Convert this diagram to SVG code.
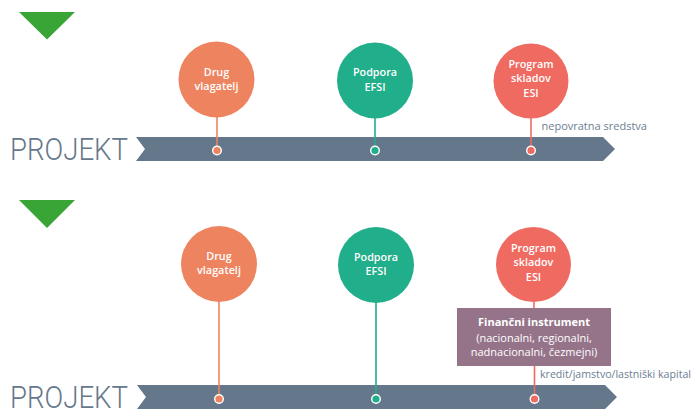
<svg xmlns="http://www.w3.org/2000/svg" width="692" height="409" viewBox="0 0 692 409">
<style>
.tri{fill:#3aa537}
.bar{fill:#64778b}
.proj{font-family:Roboto,"Open Sans",sans-serif;font-weight:300;font-size:31px;fill:#66788c}
.ct{font-family:"Open Sans","Noto Sans",sans-serif;font-weight:600;font-size:10.8px;fill:#ffffff;text-anchor:middle}
.lbl{font-family:"Open Sans","Noto Sans",sans-serif;font-size:11px;fill:#6c7e93}
.bt{font-family:"Open Sans","Noto Sans",sans-serif;font-size:11px;fill:#ffffff;text-anchor:middle}
.o{fill:#ee845f}.g{fill:#21ae8a}.r{fill:#ef6b62}
.so{stroke:#ee845f}.sg{stroke:#21ae8a}.sr{stroke:#ef6b62}
.stem{stroke-width:1.6;fill:none}
.dot{stroke:#ffffff;stroke-width:1.4}
</style>
<rect width="692" height="409" fill="#ffffff"/>
<!-- section 1 -->
<polygon class="tri" points="19,12 75,12 47,39.5"/>
<g id="bar1">
<polygon class="bar" points="136,137 603,137 615,149 603,161 136,161 145,149"/>
<text class="proj" x="10" y="160" textLength="118" lengthAdjust="spacingAndGlyphs">PROJEKT</text>
</g>
<g id="connectors1">
<line class="stem so" x1="217" y1="117" x2="217" y2="150"/>
<line class="stem sg" x1="375" y1="118" x2="375" y2="150"/>
<line class="stem sr" x1="531" y1="118" x2="531" y2="150"/>
<circle class="dot o" cx="217" cy="150.5" r="4.3"/>
<circle class="dot g" cx="375" cy="150.5" r="4.3"/>
<circle class="dot r" cx="531" cy="150.5" r="4.3"/>
</g>
<g id="n1-drug">
<circle class="o" cx="216.5" cy="79.5" r="38"/>
<text class="ct" x="216.5" y="75.5">Drug</text>
<text class="ct" x="216.5" y="89.5">vlagatelj</text>
</g>
<g id="n1-efsi">
<circle class="g" cx="375" cy="80.5" r="38"/>
<text class="ct" x="375" y="76">Podpora</text>
<text class="ct" x="375" y="90.5">EFSI</text>
</g>
<g id="n1-esi">
<circle class="r" cx="531" cy="81" r="37.5"/>
<text class="ct" x="531" y="68">Program</text>
<text class="ct" x="531" y="82.3">skladov</text>
<text class="ct" x="531" y="96.6">ESI</text>
</g>
<text class="lbl" x="541.5" y="130">nepovratna sredstva</text>
<!-- section 2 -->
<polygon class="tri" points="19,200 75,200 47,228"/>
<g id="bar2">
<polygon class="bar" points="137,385 605,385 617,397 605,409 137,409 146,397"/>
<text class="proj" x="10" y="407.5" textLength="118" lengthAdjust="spacingAndGlyphs">PROJEKT</text>
</g>
<g id="connectors2">
<line class="stem so" x1="219" y1="301" x2="219" y2="398"/>
<line class="stem sg" x1="376" y1="302" x2="376" y2="398"/>
<line class="stem sr" x1="534" y1="302" x2="534" y2="308"/>
<line class="stem sr" x1="534.5" y1="366" x2="534.5" y2="398"/>
<circle class="dot o" cx="219" cy="399" r="4.3"/>
<circle class="dot g" cx="376" cy="399" r="4.3"/>
<circle class="dot r" cx="534.5" cy="399" r="4.3"/>
</g>
<g id="n2-drug">
<circle class="o" cx="219" cy="264" r="38"/>
<text class="ct" x="219" y="260">Drug</text>
<text class="ct" x="219" y="274">vlagatelj</text>
</g>
<g id="n2-efsi">
<circle class="g" cx="376" cy="265" r="38"/>
<text class="ct" x="376" y="260.5">Podpora</text>
<text class="ct" x="376" y="275">EFSI</text>
</g>
<g id="n2-esi">
<circle class="r" cx="533.5" cy="264.5" r="37.5"/>
<text class="ct" x="533.5" y="252">Program</text>
<text class="ct" x="533.5" y="266.3">skladov</text>
<text class="ct" x="533.5" y="280.6">ESI</text>
</g>
<g id="n2-fi">
<rect x="457" y="308" width="154" height="58" fill="#957489"/>
<text class="bt" x="534" y="326" font-weight="700">Finančni instrument</text>
<text class="bt" x="534" y="341.5">(nacionalni, regionalni,</text>
<text class="bt" x="534" y="356">nadnacionalni, čezmejni)</text>
</g>
<text class="lbl" x="540" y="378" textLength="151" lengthAdjust="spacingAndGlyphs">kredit/jamstvo/lastniški kapital</text>
</svg>
